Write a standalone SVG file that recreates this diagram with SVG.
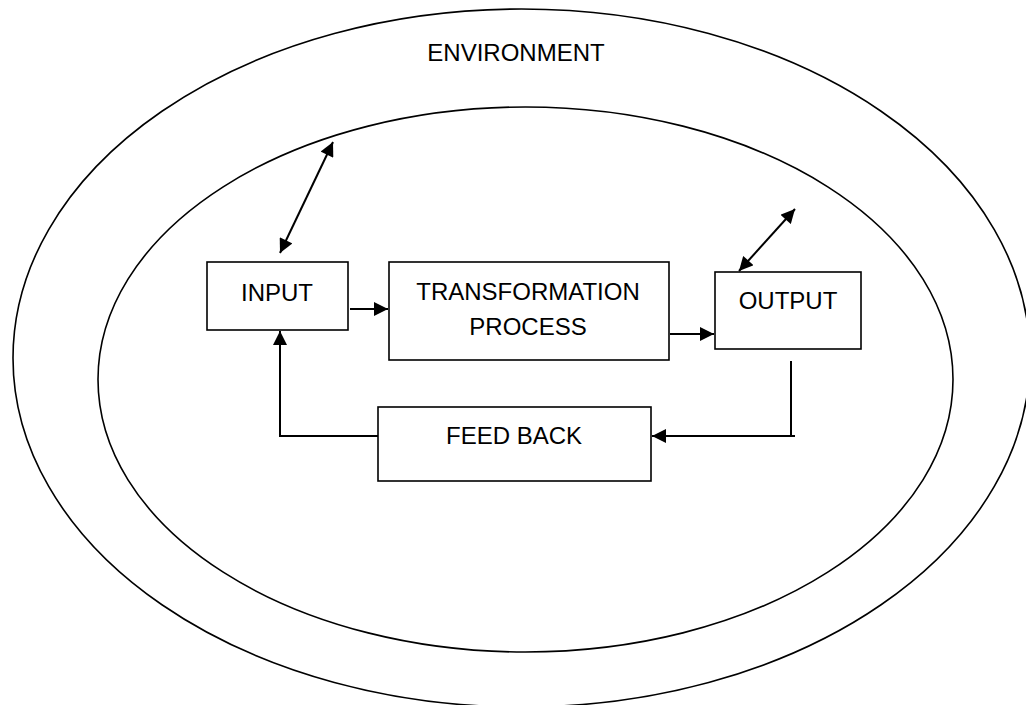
<svg xmlns="http://www.w3.org/2000/svg" width="1026" height="705" viewBox="0 0 1026 705">
<style>
.ring{fill:none;stroke:#000;stroke-width:1.6}
.box{fill:#fff;stroke:#000;stroke-width:1.6}
.lbl{font-family:"Liberation Sans",Arial,sans-serif;font-size:24px;fill:#000;text-anchor:middle}
.con{fill:none;stroke:#000;stroke-width:2}
</style>
<defs>
<marker id="ah" viewBox="0 0 10 10" refX="10" refY="5" markerWidth="7.5" markerHeight="7" orient="auto-start-reverse" markerUnits="strokeWidth">
<path d="M0,0 L10,5 L0,10 Z" fill="#000"/>
</marker>
</defs>
<rect width="1026" height="705" fill="#fff"/>
<g id="environment">
<ellipse class="ring" cx="521.5" cy="358" rx="508.5" ry="349"/>
<text class="lbl" x="516" y="61">ENVIRONMENT</text>
</g>
<g id="system">
<ellipse class="ring" cx="525.5" cy="379.5" rx="427.5" ry="272.5"/>
</g>
<g id="input">
<rect class="box" x="207" y="262" width="141" height="68"/>
<text class="lbl" x="277" y="301">INPUT</text>
</g>
<g id="transformation">
<rect class="box" x="389" y="262" width="280" height="98"/>
<text class="lbl" x="528" y="300">TRANSFORMATION</text>
<text class="lbl" x="528" y="335">PROCESS</text>
</g>
<g id="output">
<rect class="box" x="715" y="272" width="146" height="77"/>
<text class="lbl" x="788" y="309">OUTPUT</text>
</g>
<g id="feedback">
<rect class="box" x="378" y="407" width="273" height="74"/>
<text class="lbl" x="514" y="444">FEED BACK</text>
</g>
<g id="connectors">
<line class="con" x1="280" y1="253" x2="333" y2="142" marker-start="url(#ah)" marker-end="url(#ah)"/>
<line class="con" x1="739" y1="271" x2="795" y2="209" marker-start="url(#ah)" marker-end="url(#ah)"/>
<line class="con" x1="350" y1="309" x2="388" y2="309" marker-end="url(#ah)"/>
<line class="con" x1="670" y1="334" x2="714" y2="334" marker-end="url(#ah)"/>
<polyline class="con" points="791,361 791,436 795,436"/>
<line class="con" x1="792" y1="436" x2="652" y2="436" marker-end="url(#ah)"/>
<polyline class="con" points="378,436 280,436 280,331" marker-end="url(#ah)"/>
</g>
</svg>
